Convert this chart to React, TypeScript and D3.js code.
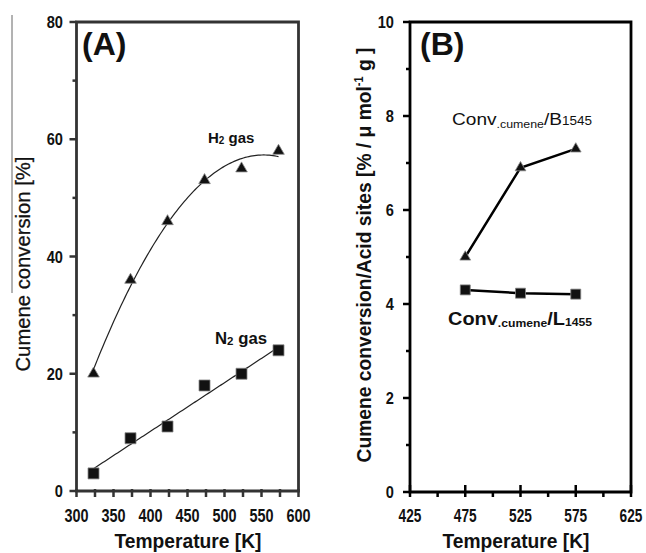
import React from "react";
import * as d3 from "d3";

const tempsA = [323, 373, 423, 473, 523, 573];
const h2Conv = [20, 36, 46, 53, 55, 58];
const n2Conv = [3, 9, 11, 18, 20, 24];
const xTicksA = [300, 350, 400, 450, 500, 550, 600];
const xMinorA = [325, 375, 425, 475, 525, 575];
const yTicksA = [0, 20, 40, 60, 80];
const yMinorA = [10, 30, 50, 70];

const tempsB = [475, 525, 575];
const convB1545 = [5.0, 6.9, 7.3];
const convL1455 = [4.3, 4.23, 4.21];
const xTicksB = [425, 475, 525, 575, 625];
const xMinorB = [450, 500, 550, 600];
const yTicksB = [0, 2, 4, 6, 8, 10];
const yMinorB = [1, 3, 5, 7, 9];

const ARIAL = '"Liberation Sans", Arial, sans-serif';

// least-squares polynomial fits for the trend lines
function polyFit(xs: number[], ys: number[], deg: number) {
  const n = deg + 1;
  const A: number[][] = [];
  for (let r = 0; r < n; r++) {
    A.push([]);
    for (let c = 0; c < n; c++) A[r].push(d3.sum(xs, (x) => Math.pow(x, r + c)));
    A[r].push(d3.sum(xs, (x, i) => Math.pow(x, r) * ys[i]));
  }
  for (let i = 0; i < n; i++) {
    for (let k = i + 1; k < n; k++) {
      const f = A[k][i] / A[i][i];
      for (let j = i; j <= n; j++) A[k][j] -= f * A[i][j];
    }
  }
  const coef = new Array(n).fill(0);
  for (let i = n - 1; i >= 0; i--) {
    let s = A[i][n];
    for (let j = i + 1; j < n; j++) s -= A[i][j] * coef[j];
    coef[i] = s / A[i][i];
  }
  return (x: number) => coef.reduce((acc, c, i) => acc + c * Math.pow(x, i), 0);
}

// condensed text (horizontal squeeze)
function CText(props: any) {
  const { x, y, sx = 0.76, children, ...rest } = props;
  return (
    <text transform={`translate(${x},${y}) scale(${sx},1)`} fontFamily={ARIAL} fill="#111" {...rest}>
      {children}
    </text>
  );
}

export default function App() {
  const xA = d3.scaleLinear().domain([300, 600]).range([76.5, 298.5]);
  const yA = d3.scaleLinear().domain([0, 80]).range([491, 22]);
  const xB = d3.scaleLinear().domain([425, 625]).range([410, 631]);
  const yB = d3.scaleLinear().domain([0, 10]).range([492, 22]);

  const t0 = tempsA[0];
  const ts = tempsA.map((t) => (t - t0) / 50);
  const fitH2 = polyFit(ts, h2Conv, 2);
  const fitN2 = polyFit(ts, n2Conv, 1);
  const fitX = d3.range(0, 5.001, 0.05);
  const lineA = d3
    .line<[number, number]>()
    .x((d) => xA(d[0]))
    .y((d) => yA(d[1]));
  const h2Path = lineA(fitX.map((t) => [t0 + t * 50, fitH2(t)]));
  const n2Path = lineA(fitX.map((t) => [t0 + t * 50, fitN2(t)]));

  const lineB = d3
    .line<number>()
    .x((_, i) => xB(tempsB[i]))
    .y((d) => yB(d));
  const b1545Path = lineB(convB1545);
  const l1455Path = lineB(convL1455);

  const triA = d3.symbol().type(d3.symbolTriangle).size(58)()!;
  const sqA = d3.symbol().type(d3.symbolSquare).size(121)()!;
  const triB = d3.symbol().type(d3.symbolTriangle).size(50)()!;
  const sqB = d3.symbol().type(d3.symbolSquare).size(100)()!;

  const axisA = "#333";

  return (
    <svg width={646} height={553} style={{ position: "absolute", left: 0, top: 0, background: "#fff" }}>
      <rect x={0} y={0} width={646} height={553} fill="#fff" />
      {/* ---------- Panel A ---------- */}
      <line x1={12} x2={12} y1={15} y2={293} stroke="#666" strokeWidth={1} />
      <text
        transform={`translate(30,${264}) rotate(-90)`}
        textAnchor="middle"
        fontFamily={ARIAL}
        fontSize={21}
        textLength={215}
        lengthAdjust="spacingAndGlyphs"
        fill="#111"
        stroke="#111"
        strokeWidth={0.3}
      >
        Cumene conversion [%]
      </text>
      {/* frame */}
      <path
        d={`M${xA(300)},${yA(0)} V${yA(80)} H${xA(600)} V${yA(0)} Z`}
        fill="none"
        stroke={axisA}
        strokeWidth={2.8}
      />
      {yTicksA.map((v) => (
        <g key={"ya" + v}>
          <line x1={xA(300) - 7} x2={xA(300)} y1={yA(v)} y2={yA(v)} stroke={axisA} strokeWidth={2.5} />
          <CText x={63} y={yA(v) + 6} sx={0.86} textAnchor="end" fontWeight="bold" fontSize={17}>
            {v}
          </CText>
        </g>
      ))}
      {yMinorA.map((v) => (
        <line key={"yam" + v} x1={xA(300) - 4} x2={xA(300)} y1={yA(v)} y2={yA(v)} stroke={axisA} strokeWidth={2.5} />
      ))}
      {[...xTicksA, ...xMinorA].map((v) => (
        <line key={"xat" + v} x1={xA(v)} x2={xA(v)} y1={yA(0) - 2} y2={yA(0) + 6} stroke={axisA} strokeWidth={2.5} />
      ))}
      {xTicksA.map((v) => (
        <CText key={"xa" + v} x={xA(v)} y={522} textAnchor="middle" fontWeight="bold" fontSize={19}>
          {v}
        </CText>
      ))}
      <text x={188} y={548} textAnchor="middle" fontFamily={ARIAL} fontWeight="bold" fontSize={20} textLength={147} lengthAdjust="spacingAndGlyphs" fill="#111">
        Temperature [K]
      </text>
      <text x={82} y={55} fontFamily={ARIAL} fontWeight="bold" fontSize={32} fill="#111">
        (A)
      </text>
      {/* fits */}
      <path d={h2Path!} fill="none" stroke="#222" strokeWidth={1.2} />
      <path d={n2Path!} fill="none" stroke="#222" strokeWidth={1.2} />
      {tempsA.map((t, i) => (
        <path key={"h2" + t} d={triA} transform={`translate(${xA(t)},${yA(h2Conv[i])})`} fill="#111" stroke="#888" strokeWidth={0.8} />
      ))}
      {tempsA.map((t, i) => (
        <path key={"n2" + t} d={sqA} transform={`translate(${xA(t)},${yA(n2Conv[i])})`} fill="#111" stroke="#888" strokeWidth={0.8} />
      ))}
      <text x={208} y={143} fontFamily={ARIAL} fontWeight="bold" fontSize={15} fill="#111">
        H<tspan fontSize={10} dy={1}>2</tspan>
        <tspan dy={-1}> gas</tspan>
      </text>
      <text x={215} y={344} fontFamily={ARIAL} fontWeight="bold" fontSize={16} fill="#111" textLength={52} lengthAdjust="spacingAndGlyphs">
        N<tspan fontSize={11} dy={1}>2</tspan>
        <tspan dy={-1}> gas</tspan>
      </text>

      {/* ---------- Panel B ---------- */}
      <text
        transform={`translate(371,${255}) rotate(-90)`}
        textAnchor="middle"
        fontFamily={ARIAL}
        fontWeight="bold"
        fontSize={21}
        textLength={415}
        lengthAdjust="spacingAndGlyphs"
        fill="#111"
      >
        Cumene conversion/Acid sites [% / μ mol<tspan fontSize={12} dy={-8}>-1</tspan>
        <tspan dy={8}> g ]</tspan>
      </text>
      <path
        d={`M${xB(425)},${yB(0)} V${yB(10)} H${xB(625)} V${yB(0)} Z`}
        fill="none"
        stroke="#000"
        strokeWidth={2.8}
      />
      {yTicksB.map((v) => (
        <g key={"yb" + v}>
          <line x1={xB(425) - 7} x2={xB(425)} y1={yB(v)} y2={yB(v)} stroke="#000" strokeWidth={2.5} />
          <CText x={394} y={yB(v) + 6} sx={0.86} textAnchor="end" fontWeight="bold" fontSize={17}>
            {v}
          </CText>
        </g>
      ))}
      {yMinorB.map((v) => (
        <line key={"ybm" + v} x1={xB(425) - 4} x2={xB(425)} y1={yB(v)} y2={yB(v)} stroke="#000" strokeWidth={2.5} />
      ))}
      {xTicksB.map((v) => (
        <line key={"xbt" + v} x1={xB(v)} x2={xB(v)} y1={yB(0) - 7} y2={yB(0) + 5} stroke="#000" strokeWidth={2.5} />
      ))}
      {xMinorB.map((v) => (
        <line key={"xbm" + v} x1={xB(v)} x2={xB(v)} y1={yB(0)} y2={yB(0) + 5} stroke="#000" strokeWidth={2.5} />
      ))}
      {xTicksB.map((v) => (
        <CText key={"xb" + v} x={xB(v)} y={522} textAnchor="middle" fontWeight="bold" fontSize={18}>
          {v}
        </CText>
      ))}
      <text x={516} y={548} textAnchor="middle" fontFamily={ARIAL} fontWeight="bold" fontSize={20} textLength={147} lengthAdjust="spacingAndGlyphs" fill="#111">
        Temperature [K]
      </text>
      <text x={420} y={55} fontFamily={ARIAL} fontWeight="bold" fontSize={32} fill="#111">
        (B)
      </text>
      <path d={b1545Path!} fill="none" stroke="#000" strokeWidth={2.5} />
      <path d={l1455Path!} fill="none" stroke="#000" strokeWidth={2.5} />
      {tempsB.map((t, i) => (
        <path key={"b" + t} d={triB} transform={`translate(${xB(t)},${yB(convB1545[i])})`} fill="#111" stroke="#888" strokeWidth={0.8} />
      ))}
      {tempsB.map((t, i) => (
        <path key={"l" + t} d={sqB} transform={`translate(${xB(t)},${yB(convL1455[i])})`} fill="#111" stroke="#888" strokeWidth={0.8} />
      ))}
      <text x={452} y={125} fontFamily={ARIAL} fontSize={17} fill="#111" textLength={140} lengthAdjust="spacingAndGlyphs">
        Conv<tspan fontSize={11} dy={3}>.cumene</tspan>
        <tspan dy={-3}>/B</tspan>
        <tspan fontSize={12}>1545</tspan>
      </text>
      <text x={448} y={325} fontFamily={ARIAL} fontWeight="bold" fontSize={18} fill="#111" textLength={144} lengthAdjust="spacingAndGlyphs">
        Conv<tspan fontSize={11} dy={2}>.cumene</tspan>
        <tspan dy={-2}>/L</tspan>
        <tspan fontSize={11} dy={1}>1455</tspan>
      </text>
    </svg>
  );
}
